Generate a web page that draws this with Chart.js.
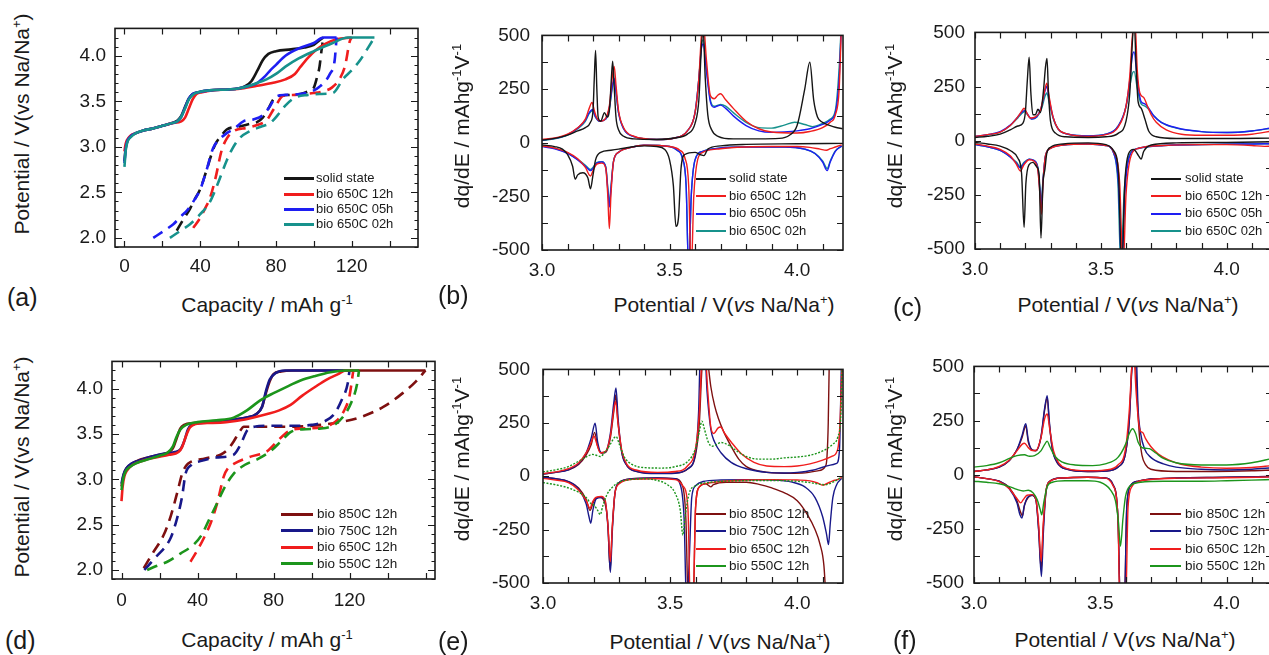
<!DOCTYPE html>
<html>
<head>
<meta charset="utf-8">
<script src="https://cdn.jsdelivr.net/npm/chart.js@4.4.1/dist/chart.umd.min.js"></script>
<style>
  html, body { margin: 0; padding: 0; background: #fff; }
  #fig { position: relative; width: 1269px; height: 655px; overflow: hidden;
         font-family: "Liberation Sans", Arial, sans-serif; color: #1a1a1a; }
  #fig canvas { position: absolute; }
  .xt { position: absolute; width: 400px; text-align: center; white-space: nowrap; font-size: 21px; line-height: 24px; }
  .yt { position: absolute; width: 320px; text-align: center; white-space: nowrap; font-size: 21px; line-height: 24px; transform: rotate(-90deg); }
  .pl { position: absolute; font-size: 25px; line-height: 28px; }
  sup { font-size: 0.62em; line-height: 0; vertical-align: 0.62em; }
  .lg { position: absolute; white-space: nowrap; line-height: 16px; }
  .lg span { display: inline-block; vertical-align: middle; }
</style>
</head>
<body>
<div id="fig"></div>
<script>
/* ---- galvanostatic curves: [capacity mAh/g, potential V] ---- */
// (a) charge (solid) / discharge (dashed)
const aSolidChg = [[0,2.84],[0.6,2.98],[1.5,3.06],[3,3.11],[6,3.15],[10,3.18],[15,3.2],[20,3.23],[25,3.26],[28,3.29],[30,3.34],[32,3.44],[34,3.53],[36,3.58],[39,3.6],[45,3.62],[55,3.63],[60,3.64],[64,3.67],[67,3.72],[70,3.83],[73,3.95],[76,4.02],[80,4.05],[88,4.07],[95,4.09],[100,4.12],[103,4.17],[105,4.2]];
const a12hChg = [[0,2.95],[0.6,3.03],[1.5,3.08],[3,3.12],[6,3.15],[10,3.18],[15,3.2],[20,3.23],[25,3.26],[30,3.28],[32,3.32],[34,3.42],[36,3.52],[38,3.58],[41,3.6],[46,3.62],[55,3.63],[62,3.64],[70,3.67],[78,3.7],[85,3.74],[90,3.8],[93,3.88],[97,3.98],[101,4.06],[106,4.13],[112,4.18],[120,4.2]];
const a05hChg = [[0,2.82],[0.6,2.97],[1.5,3.06],[3,3.11],[6,3.15],[10,3.18],[15,3.2],[20,3.23],[25,3.26],[28,3.28],[30,3.33],[32,3.43],[34,3.53],[36,3.58],[39,3.6],[45,3.62],[55,3.63],[60,3.64],[66,3.67],[70,3.7],[74,3.77],[77,3.84],[80,3.9],[85,4.0],[92,4.08],[100,4.14],[105,4.2],[112,4.2]];
const a02hChg = [[0,2.78],[0.6,2.95],[1.5,3.05],[3,3.1],[6,3.15],[10,3.18],[15,3.2],[20,3.23],[25,3.26],[28,3.28],[30,3.33],[32,3.42],[34,3.52],[36,3.57],[39,3.6],[45,3.62],[55,3.63],[60,3.64],[66,3.67],[70,3.7],[75,3.74],[80,3.8],[85,3.88],[92,3.97],[100,4.05],[110,4.14],[118,4.2],[132,4.2]];
const aSolidDis = [[27.6,2.08],[31,2.2],[34.6,2.32],[37,2.42],[39.9,2.53],[43,2.72],[46,2.92],[48,3.03],[51,3.12],[54,3.19],[60,3.22],[66,3.25],[70,3.27],[73,3.32],[76,3.42],[78.6,3.52],[82,3.56],[88,3.57],[93,3.58],[98,3.62],[100,3.65],[101.5,3.75],[103,3.88],[104,4.05],[105,4.2]];
const a12hDis = [[36.3,2.11],[40,2.22],[42.5,2.32],[45,2.43],[48,2.65],[51.3,2.96],[54,3.09],[57.5,3.17],[65,3.21],[70,3.24],[75,3.29],[79,3.42],[83.9,3.56],[90,3.57],[99.7,3.59],[105,3.61],[109.5,3.65],[113.8,3.75],[116.5,3.89],[119,4.16],[120,4.2]];
const a05hDis = [[15.2,2.0],[21,2.08],[25.8,2.15],[30,2.24],[33,2.3],[37,2.42],[40,2.53],[43,2.72],[46.9,2.99],[50,3.08],[54,3.15],[58,3.2],[62.8,3.28],[68,3.3],[73.3,3.35],[77,3.45],[80,3.55],[85,3.57],[96,3.59],[103,3.66],[108.5,3.8],[111,3.95],[112,4.2]];
const a02hDis = [[24,2.0],[29,2.07],[34.6,2.15],[40,2.26],[45,2.39],[49,2.58],[54,2.85],[57,2.98],[61,3.1],[66,3.17],[72,3.22],[76.9,3.26],[81,3.35],[84.8,3.45],[90,3.54],[97,3.57],[103,3.58],[110,3.59],[115.6,3.75],[120,3.84],[124.4,3.95],[129,4.1],[132,4.2]];

// (d) charge (solid) / discharge (dashed)
const d850Chg = [[0,2.92],[0.8,3.02],[2,3.1],[4,3.15],[8,3.2],[14,3.24],[20,3.27],[25,3.3],[27,3.34],[29,3.45],[31,3.56],[33,3.6],[38,3.62],[50,3.64],[60,3.66],[66,3.68],[71,3.72],[74,3.8],[76,3.95],[78,4.08],[80,4.16],[84,4.19],[90,4.2],[160,4.2]];
const d750Chg = [[0,2.95],[1,3.05],[2.5,3.12],[5,3.17],[10,3.21],[16,3.25],[22,3.28],[28,3.3],[31,3.33],[33,3.42],[35,3.55],[37,3.6],[42,3.62],[50,3.64],[60,3.66],[66,3.68],[71,3.72],[74,3.8],[76,3.97],[78,4.1],[81,4.17],[86,4.2],[120,4.2]];
const d650Chg = [[0,2.76],[0.6,2.92],[1.5,3.03],[3,3.1],[6,3.16],[12,3.21],[18,3.24],[25,3.27],[30,3.3],[32,3.36],[34,3.48],[36,3.57],[39,3.61],[45,3.62],[55,3.63],[65,3.66],[76.7,3.72],[83,3.76],[89,3.82],[95,3.92],[102,4.02],[108,4.1],[114,4.16],[118,4.2],[122,4.2]];
const d550Chg = [[0,2.88],[0.8,3.0],[2,3.08],[4,3.13],[8,3.18],[14,3.22],[20,3.26],[24,3.29],[27,3.36],[29,3.47],[31,3.55],[34,3.6],[40,3.63],[50,3.65],[59,3.68],[66,3.76],[73,3.87],[80,3.95],[88,4.03],[94.2,4.09],[102,4.14],[110,4.18],[118,4.2],[125,4.2]];
const d850Dis = [[11.7,2.02],[16,2.17],[22.3,2.39],[26,2.6],[29.3,2.85],[31.9,3.06],[34,3.15],[36.3,3.19],[44,3.23],[52.1,3.27],[56,3.33],[59.1,3.42],[62,3.52],[64.4,3.58],[75,3.58],[90,3.58],[105,3.6],[115,3.63],[125,3.68],[138,3.8],[148,3.95],[155,4.08],[160,4.2]];
const d750Dis = [[12,2.0],[18,2.14],[25.8,2.35],[29,2.55],[31.9,2.81],[33.7,3.06],[37,3.16],[41.6,3.2],[50,3.24],[59,3.27],[62.6,3.38],[66.2,3.54],[70,3.58],[76.7,3.59],[90,3.59],[100,3.6],[106,3.63],[112,3.72],[116,3.88],[119,4.05],[120,4.2]];
const d650Dis = [[36.3,2.09],[40,2.22],[43.3,2.35],[47,2.52],[50.4,2.74],[53.8,3.03],[56,3.12],[59.1,3.17],[68,3.25],[76.7,3.31],[82,3.42],[86,3.5],[89,3.54],[95,3.56],[105,3.57],[110,3.6],[114,3.66],[117,3.75],[120,3.92],[122,4.2]];
const d550Dis = [[13.5,2.0],[18,2.04],[24.1,2.09],[31,2.18],[38,2.28],[42,2.38],[46,2.55],[50.4,2.74],[54,2.9],[59,3.06],[65,3.16],[71.4,3.22],[78.4,3.31],[84,3.42],[89,3.52],[95,3.55],[105,3.56],[112,3.6],[117,3.7],[121,3.85],[124,4.05],[125,4.2]];

/* ---- differential capacity: [potential V, dq/dE mAh/g/V] ---- */
// (b)
const bSolidChg = [[3.0,12],[3.05,20],[3.1,35],[3.14,55],[3.17,70],[3.19,95],[3.2,150],[3.205,300],[3.21,430],[3.215,250],[3.22,120],[3.23,100],[3.245,140],[3.255,120],[3.265,160],[3.272,300],[3.277,380],[3.283,260],[3.29,120],[3.3,60],[3.32,30],[3.36,18],[3.45,15],[3.52,22],[3.57,40],[3.6,90],[3.615,200],[3.625,450],[3.632,520],[3.64,300],[3.65,130],[3.665,60],[3.69,30],[3.75,18],[3.85,18],[3.93,20],[3.97,35],[4.0,80],[4.03,250],[4.05,375],[4.065,200],[4.08,120],[4.1,95],[4.13,80],[4.15,72],[4.178,65]];
const bSolidDis = [[3.0,-10],[3.05,-18],[3.08,-30],[3.1,-55],[3.12,-110],[3.13,-170],[3.14,-150],[3.16,-140],[3.18,-165],[3.19,-215],[3.2,-150],[3.21,-80],[3.23,-45],[3.27,-35],[3.3,-30],[3.35,-20],[3.4,-15],[3.45,-18],[3.48,-30],[3.5,-80],[3.515,-200],[3.525,-390],[3.535,-350],[3.545,-120],[3.56,-55],[3.6,-45],[3.62,-55],[3.635,-60],[3.65,-30],[3.7,-15],[3.8,-8],[4.0,-5],[4.178,-3]];
const b12hChg = [[3.0,15],[3.05,22],[3.1,40],[3.14,70],[3.17,110],[3.185,160],[3.196,188],[3.205,150],[3.215,115],[3.23,100],[3.25,115],[3.265,180],[3.275,300],[3.283,355],[3.29,270],[3.3,150],[3.32,70],[3.36,30],[3.45,15],[3.52,22],[3.57,55],[3.6,140],[3.615,300],[3.625,500],[3.632,560],[3.645,380],[3.66,220],[3.675,205],[3.69,222],[3.7,228],[3.72,200],[3.75,160],[3.8,100],[3.85,65],[3.9,50],[4.0,45],[4.05,52],[4.1,70],[4.13,95],[4.15,130],[4.165,250],[4.175,600]];
const b12hDis = [[3.0,-15],[3.05,-25],[3.1,-45],[3.14,-75],[3.17,-115],[3.19,-155],[3.2,-130],[3.215,-100],[3.235,-95],[3.25,-120],[3.258,-250],[3.264,-400],[3.27,-250],[3.28,-90],[3.3,-45],[3.35,-22],[3.4,-12],[3.5,-18],[3.54,-35],[3.56,-70],[3.575,-200],[3.585,-600],[3.595,-250],[3.61,-80],[3.63,-45],[3.7,-28],[3.8,-20],[3.9,-18],[4.0,-18],[4.05,-22],[4.09,-30],[4.115,-35],[4.13,-28],[4.15,-20],[4.175,-10]];
const b05hChg = [[3.0,12],[3.05,20],[3.1,38],[3.14,68],[3.17,105],[3.185,140],[3.198,155],[3.21,120],[3.225,100],[3.25,110],[3.265,170],[3.275,260],[3.283,300],[3.29,240],[3.3,140],[3.32,65],[3.36,28],[3.45,15],[3.52,22],[3.57,55],[3.6,140],[3.615,300],[3.625,440],[3.632,460],[3.645,330],[3.66,190],[3.675,165],[3.69,172],[3.7,175],[3.72,160],[3.75,125],[3.8,80],[3.85,55],[3.9,48],[3.95,50],[4.0,55],[4.05,65],[4.1,85],[4.13,105],[4.15,140],[4.165,300],[4.175,600]];
const b05hDis = [[3.0,-18],[3.05,-28],[3.1,-50],[3.14,-80],[3.17,-110],[3.19,-130],[3.2,-120],[3.215,-95],[3.235,-90],[3.25,-115],[3.258,-220],[3.264,-300],[3.27,-220],[3.28,-90],[3.3,-45],[3.35,-22],[3.4,-12],[3.5,-18],[3.53,-35],[3.55,-70],[3.565,-200],[3.575,-600],[3.585,-250],[3.6,-80],[3.63,-40],[3.7,-25],[3.8,-20],[3.95,-20],[4.03,-30],[4.07,-50],[4.1,-90],[4.118,-130],[4.13,-90],[4.15,-40],[4.175,-15]];
const b02hChg = [[3.0,10],[3.05,18],[3.1,35],[3.14,65],[3.17,100],[3.185,135],[3.198,150],[3.21,118],[3.225,100],[3.25,110],[3.265,165],[3.275,250],[3.283,290],[3.29,235],[3.3,140],[3.32,65],[3.36,28],[3.45,15],[3.52,22],[3.57,55],[3.6,140],[3.615,300],[3.625,450],[3.632,480],[3.645,340],[3.66,200],[3.675,170],[3.69,175],[3.7,178],[3.72,170],[3.75,140],[3.8,95],[3.85,70],[3.9,68],[3.95,82],[3.99,95],[4.03,85],[4.06,75],[4.1,90],[4.13,110],[4.15,150],[4.165,350],[4.175,600]];
const b02hDis = [[3.0,-16],[3.05,-26],[3.1,-48],[3.14,-78],[3.17,-105],[3.19,-125],[3.2,-115],[3.215,-92],[3.235,-88],[3.25,-112],[3.258,-210],[3.264,-280],[3.27,-210],[3.28,-88],[3.3,-45],[3.35,-22],[3.4,-12],[3.5,-18],[3.53,-35],[3.55,-70],[3.565,-200],[3.575,-600],[3.585,-250],[3.6,-80],[3.63,-40],[3.7,-25],[3.8,-20],[3.95,-20],[4.03,-30],[4.07,-50],[4.1,-85],[4.118,-120],[4.13,-85],[4.15,-38],[4.175,-15]];

// (c)
const cSolidChg = [[3.0,15],[3.05,20],[3.1,30],[3.14,50],[3.17,68],[3.19,80],[3.2,130],[3.208,280],[3.215,385],[3.222,220],[3.23,120],[3.24,120],[3.25,145],[3.26,130],[3.272,230],[3.28,340],[3.286,380],[3.292,220],[3.3,90],[3.32,35],[3.36,18],[3.45,15],[3.52,18],[3.57,35],[3.6,90],[3.615,220],[3.625,450],[3.632,560],[3.64,350],[3.648,180],[3.66,150],[3.675,100],[3.69,45],[3.72,18],[3.8,10],[4.0,10],[4.18,12]];
const cSolidDis = [[3.0,-8],[3.05,-15],[3.1,-25],[3.14,-45],[3.17,-80],[3.185,-150],[3.195,-400],[3.202,-200],[3.215,-110],[3.23,-100],[3.245,-120],[3.255,-160],[3.262,-450],[3.27,-200],[3.278,-130],[3.285,-60],[3.3,-30],[3.35,-15],[3.45,-10],[3.52,-18],[3.55,-45],[3.57,-150],[3.583,-600],[3.595,-200],[3.61,-60],[3.63,-40],[3.65,-70],[3.66,-85],[3.67,-50],[3.7,-20],[3.8,-10],[4.0,-8],[4.18,-5]];
const c12hChg = [[3.0,20],[3.05,28],[3.1,40],[3.14,70],[3.17,110],[3.185,135],[3.195,150],[3.205,130],[3.22,105],[3.24,110],[3.26,140],[3.275,220],[3.285,265],[3.295,200],[3.31,110],[3.33,55],[3.37,30],[3.45,20],[3.52,28],[3.57,65],[3.6,160],[3.615,300],[3.625,480],[3.635,560],[3.645,320],[3.655,220],[3.67,200],[3.685,160],[3.7,120],[3.72,85],[3.76,50],[3.82,30],[3.9,25],[4.0,25],[4.1,30],[4.18,45]];
const c12hDis = [[3.0,-15],[3.05,-25],[3.1,-40],[3.14,-70],[3.165,-110],[3.18,-140],[3.195,-110],[3.215,-88],[3.235,-95],[3.25,-140],[3.258,-250],[3.264,-340],[3.27,-200],[3.28,-70],[3.3,-35],[3.35,-20],[3.45,-15],[3.52,-22],[3.55,-50],[3.575,-200],[3.588,-600],[3.6,-250],[3.62,-70],[3.65,-35],[3.75,-22],[3.9,-18],[4.0,-18],[4.1,-22],[4.15,-26],[4.18,-25]];
const c05hChg = [[3.0,20],[3.05,28],[3.1,42],[3.14,72],[3.17,110],[3.185,130],[3.198,140],[3.21,120],[3.225,100],[3.245,110],[3.265,160],[3.278,230],[3.285,250],[3.295,190],[3.31,110],[3.33,55],[3.37,30],[3.45,22],[3.52,30],[3.57,70],[3.6,160],[3.615,280],[3.625,390],[3.632,410],[3.645,280],[3.66,180],[3.675,170],[3.69,150],[3.71,115],[3.74,85],[3.8,60],[3.9,42],[4.0,38],[4.1,45],[4.18,60]];
const c05hDis = [[3.0,-18],[3.05,-28],[3.1,-45],[3.14,-75],[3.165,-105],[3.18,-125],[3.195,-105],[3.215,-85],[3.235,-92],[3.25,-130],[3.258,-230],[3.264,-300],[3.27,-190],[3.28,-70],[3.3,-35],[3.35,-20],[3.45,-15],[3.52,-22],[3.55,-55],[3.57,-200],[3.583,-600],[3.595,-250],[3.615,-70],[3.65,-35],[3.75,-22],[3.9,-18],[4.0,-16],[4.1,-15],[4.18,-14]];
const c02hChg = [[3.0,18],[3.05,26],[3.1,40],[3.14,70],[3.17,105],[3.185,125],[3.198,135],[3.21,118],[3.225,100],[3.245,108],[3.265,150],[3.278,205],[3.285,220],[3.295,175],[3.31,105],[3.33,55],[3.37,30],[3.45,22],[3.52,30],[3.57,70],[3.6,155],[3.615,250],[3.625,310],[3.632,320],[3.645,240],[3.66,170],[3.675,160],[3.69,145],[3.71,115],[3.74,85],[3.8,58],[3.9,42],[4.0,38],[4.1,45],[4.18,58]];
const c02hDis = [[3.0,-18],[3.05,-28],[3.1,-45],[3.14,-75],[3.165,-100],[3.18,-120],[3.195,-100],[3.215,-85],[3.235,-92],[3.25,-125],[3.258,-220],[3.264,-280],[3.27,-180],[3.28,-70],[3.3,-35],[3.35,-20],[3.45,-15],[3.52,-22],[3.55,-55],[3.568,-200],[3.58,-600],[3.592,-250],[3.612,-70],[3.65,-35],[3.75,-22],[3.9,-18],[4.0,-16],[4.1,-15],[4.18,-14]];

// (e)
const e850Chg = [[3.0,10],[3.05,18],[3.1,30],[3.14,55],[3.17,100],[3.19,150],[3.203,205],[3.215,140],[3.23,108],[3.245,110],[3.265,180],[3.278,300],[3.286,380],[3.295,250],[3.31,110],[3.33,50],[3.37,22],[3.45,13],[3.52,15],[3.57,35],[3.6,100],[3.615,250],[3.625,500],[3.64,620],[3.65,520],[3.66,420],[3.675,330],[3.69,270],[3.71,210],[3.74,140],[3.77,80],[3.8,45],[3.86,22],[3.95,14],[4.02,15],[4.08,25],[4.11,45],[4.117,90],[4.122,250],[4.127,620]];
const e850Dis = [[3.0,-5],[3.05,-12],[3.1,-25],[3.14,-55],[3.17,-110],[3.185,-160],[3.2,-115],[3.22,-98],[3.24,-115],[3.255,-220],[3.264,-440],[3.272,-250],[3.283,-80],[3.3,-30],[3.35,-12],[3.45,-8],[3.52,-12],[3.55,-50],[3.562,-200],[3.572,-620],[3.59,-620],[3.6,-150],[3.615,-50],[3.64,-35],[3.66,-50],[3.67,-40],[3.72,-28],[3.8,-28],[3.85,-38],[3.9,-55],[3.95,-78],[4.0,-115],[4.04,-180],[4.07,-250],[4.09,-320],[4.105,-420],[4.115,-620]];
const e750Chg = [[3.0,10],[3.05,18],[3.1,30],[3.14,58],[3.17,110],[3.19,180],[3.205,248],[3.215,160],[3.23,110],[3.245,112],[3.265,200],[3.278,340],[3.287,413],[3.296,260],[3.31,110],[3.33,50],[3.37,22],[3.45,12],[3.52,14],[3.57,35],[3.6,110],[3.612,300],[3.62,620],[3.635,620],[3.645,400],[3.66,220],[3.675,160],[3.7,110],[3.74,65],[3.8,35],[3.88,18],[3.95,15],[4.0,18],[4.06,28],[4.1,42],[4.13,52],[4.155,60],[4.166,120],[4.175,620]];
const e750Dis = [[3.0,-5],[3.05,-12],[3.1,-25],[3.14,-60],[3.17,-130],[3.18,-185],[3.188,-220],[3.196,-160],[3.21,-105],[3.23,-100],[3.245,-120],[3.256,-250],[3.265,-450],[3.273,-250],[3.283,-80],[3.3,-30],[3.35,-12],[3.45,-8],[3.52,-12],[3.54,-40],[3.555,-200],[3.565,-620],[3.575,-400],[3.585,-100],[3.6,-45],[3.63,-25],[3.7,-18],[3.8,-16],[3.9,-18],[3.98,-28],[4.03,-50],[4.07,-100],[4.1,-190],[4.115,-270],[4.123,-320],[4.13,-220],[4.14,-100],[4.155,-40],[4.175,-10]];
const e650Chg = [[3.0,12],[3.05,20],[3.1,35],[3.14,62],[3.17,110],[3.19,160],[3.2,188],[3.212,150],[3.225,110],[3.245,115],[3.265,190],[3.277,300],[3.285,350],[3.295,250],[3.31,120],[3.33,55],[3.37,28],[3.45,18],[3.52,22],[3.57,50],[3.6,130],[3.615,300],[3.625,560],[3.635,620],[3.648,400],[3.66,230],[3.672,200],[3.688,225],[3.698,230],[3.715,200],[3.74,160],[3.78,105],[3.83,65],[3.88,48],[3.95,45],[4.0,48],[4.05,58],[4.1,75],[4.14,95],[4.16,130],[4.17,300],[4.178,620]];
const e650Dis = [[3.0,-10],[3.05,-18],[3.1,-30],[3.14,-65],[3.17,-115],[3.185,-150],[3.195,-120],[3.21,-98],[3.23,-95],[3.245,-115],[3.256,-240],[3.265,-400],[3.273,-230],[3.283,-80],[3.3,-35],[3.35,-15],[3.45,-12],[3.52,-16],[3.55,-45],[3.57,-150],[3.58,-620],[3.59,-620],[3.6,-150],[3.615,-50],[3.64,-35],[3.7,-25],[3.8,-18],[3.9,-16],[4.0,-18],[4.05,-22],[4.08,-32],[4.1,-42],[4.115,-35],[4.14,-22],[4.16,-15],[4.175,-5]];
const e550Chg = [[3.0,20],[3.05,30],[3.1,45],[3.14,70],[3.17,90],[3.195,102],[3.21,98],[3.225,92],[3.245,115],[3.265,150],[3.28,180],[3.288,185],[3.3,150],[3.32,90],[3.35,55],[3.4,40],[3.47,38],[3.52,45],[3.57,70],[3.6,130],[3.615,210],[3.625,258],[3.635,220],[3.65,160],[3.665,140],[3.685,150],[3.7,158],[3.73,145],[3.76,120],[3.8,92],[3.85,80],[3.9,80],[3.95,86],[4.0,90],[4.05,98],[4.1,118],[4.14,150],[4.16,185],[4.172,300],[4.178,620]];
const e550Dis = [[3.0,-30],[3.05,-40],[3.1,-55],[3.14,-75],[3.17,-100],[3.19,-130],[3.2,-135],[3.215,-160],[3.225,-180],[3.235,-140],[3.25,-90],[3.27,-55],[3.3,-28],[3.35,-15],[3.4,-12],[3.45,-20],[3.49,-40],[3.52,-80],[3.54,-160],[3.55,-275],[3.56,-180],[3.575,-80],[3.6,-45],[3.65,-30],[3.75,-22],[3.9,-20],[4.0,-24],[4.05,-30],[4.09,-38],[4.11,-40],[4.14,-28],[4.16,-15],[4.175,-5]];

// (f)
const f850Chg = [[3.0,15],[3.05,22],[3.1,35],[3.14,65],[3.17,115],[3.19,170],[3.205,225],[3.215,150],[3.23,115],[3.245,110],[3.265,170],[3.28,300],[3.29,355],[3.298,240],[3.31,120],[3.33,55],[3.37,25],[3.45,15],[3.52,17],[3.57,35],[3.6,100],[3.615,250],[3.625,500],[3.635,620],[3.645,380],[3.655,180],[3.665,90],[3.68,45],[3.7,25],[3.8,15],[3.95,15],[4.1,18],[4.18,22]];
const f850Dis = [[3.0,-10],[3.05,-18],[3.1,-30],[3.14,-60],[3.17,-120],[3.185,-175],[3.192,-190],[3.2,-140],[3.215,-105],[3.23,-95],[3.245,-115],[3.256,-250],[3.266,-440],[3.274,-250],[3.285,-80],[3.3,-30],[3.35,-15],[3.45,-12],[3.52,-15],[3.55,-45],[3.57,-200],[3.58,-620],[3.595,-620],[3.605,-150],[3.62,-50],[3.65,-30],[3.7,-20],[3.8,-15],[4.0,-12],[4.18,-8]];
const f750Chg = [[3.0,15],[3.05,22],[3.1,35],[3.14,65],[3.17,115],[3.19,180],[3.205,235],[3.215,160],[3.23,115],[3.245,112],[3.265,175],[3.28,310],[3.29,365],[3.298,250],[3.31,120],[3.33,55],[3.37,25],[3.45,15],[3.52,17],[3.57,35],[3.6,100],[3.615,250],[3.625,480],[3.64,620],[3.65,300],[3.66,190],[3.675,120],[3.7,80],[3.75,50],[3.8,35],[3.9,25],[4.0,22],[4.1,25],[4.18,32]];
const f750Dis = [[3.0,-10],[3.05,-18],[3.1,-30],[3.14,-65],[3.17,-130],[3.182,-185],[3.19,-200],[3.198,-150],[3.212,-105],[3.23,-95],[3.245,-115],[3.256,-260],[3.267,-470],[3.275,-260],[3.285,-80],[3.3,-30],[3.35,-15],[3.45,-12],[3.52,-15],[3.55,-45],[3.57,-200],[3.58,-620],[3.595,-620],[3.605,-150],[3.62,-50],[3.65,-30],[3.7,-20],[3.8,-15],[4.0,-12],[4.18,-8]];
const f650Chg = [[3.0,15],[3.05,22],[3.1,38],[3.14,68],[3.17,110],[3.19,140],[3.2,145],[3.215,125],[3.23,112],[3.245,112],[3.265,170],[3.28,260],[3.29,280],[3.3,210],[3.315,110],[3.335,55],[3.37,28],[3.45,18],[3.52,22],[3.57,45],[3.6,120],[3.615,300],[3.625,500],[3.632,560],[3.642,380],[3.652,240],[3.66,200],[3.668,195],[3.68,165],[3.7,130],[3.73,95],[3.77,68],[3.82,48],[3.9,35],[4.0,30],[4.1,33],[4.18,42]];
const f650Dis = [[3.0,-10],[3.05,-18],[3.1,-32],[3.14,-65],[3.17,-110],[3.185,-130],[3.195,-115],[3.21,-95],[3.23,-92],[3.245,-112],[3.256,-230],[3.266,-400],[3.274,-230],[3.285,-75],[3.3,-32],[3.35,-15],[3.45,-12],[3.52,-16],[3.55,-50],[3.57,-200],[3.578,-620],[3.6,-620],[3.61,-150],[3.625,-55],[3.65,-32],[3.7,-22],[3.8,-16],[4.0,-14],[4.18,-10]];
const f550Chg = [[3.0,35],[3.05,42],[3.1,55],[3.14,75],[3.17,88],[3.2,92],[3.22,85],[3.24,88],[3.265,110],[3.28,140],[3.29,155],[3.3,130],[3.32,85],[3.35,58],[3.4,45],[3.47,42],[3.52,50],[3.57,80],[3.6,140],[3.615,190],[3.628,212],[3.64,190],[3.65,150],[3.665,125],[3.68,122],[3.695,120],[3.72,100],[3.75,75],[3.8,55],[3.9,45],[4.0,45],[4.1,55],[4.18,75]];
const f550Dis = [[3.0,-30],[3.05,-35],[3.1,-42],[3.14,-55],[3.17,-68],[3.195,-75],[3.215,-72],[3.235,-85],[3.25,-115],[3.262,-160],[3.268,-185],[3.276,-130],[3.29,-55],[3.31,-35],[3.36,-28],[3.45,-28],[3.5,-35],[3.54,-70],[3.56,-120],[3.572,-220],[3.58,-330],[3.59,-200],[3.6,-100],[3.62,-50],[3.66,-35],[3.75,-30],[3.9,-30],[4.0,-28],[4.1,-25],[4.18,-22]];

/* ---- axis labels and legends ---- */
const capXLabels = [0, 40, 80, 120];
const capYLabels = [2.0, 2.5, 3.0, 3.5, 4.0];
const dqXLabels = [3.0, 3.5, 4.0];
const dqYLabels = [-500, -250, 0, 250, 500];
const namesTime = ['solid state', 'bio 650C 12h', 'bio 650C 05h', 'bio 650C 02h'];
const namesTemp = ['bio 850C 12h', 'bio 750C 12h', 'bio 650C 12h', 'bio 550C 12h'];

const FONT = '"Liberation Sans", Arial, sans-serif';
const COL = { blk: '#161616', red: '#f01d1d', blu: '#1e1ef2', teal: '#17928c',
              mar: '#7e1010', navy: '#18188a', grn: '#1c951c' };
const timeCols = [COL.blk, COL.red, COL.blu, COL.teal];
const tempCols = [COL.mar, COL.navy, COL.red, COL.grn];

const fig = document.getElementById('fig');
const YW = 70, XH = 40, PT = 12, PR = 12;

function line(data, color, width, dash) {
  return {
    data: data.map(p => ({ x: p[0], y: p[1] })),
    borderColor: color, borderWidth: width, borderDash: dash || [],
    pointRadius: 0, fill: false, cubicInterpolationMode: 'monotone'
  };
}

function steps(a, b, s) {
  const out = [];
  for (let v = a; v <= b + 1e-9; v += s) out.push(+v.toFixed(4));
  return out;
}

// box frame with inward tick marks on all four sides
function frame(xt, yt) {
  return {
    id: 'frame',
    afterDatasetsDraw(chart) {
      const { ctx, chartArea: a, scales: { x, y } } = chart;
      ctx.save();
      ctx.strokeStyle = '#1a1a1a';
      ctx.lineWidth = 1.2;
      ctx.beginPath();
      xt.forEach(([vals, len]) => vals.forEach(v => {
        const px = Math.round(x.getPixelForValue(v)) + 0.5;
        ctx.moveTo(px, a.bottom); ctx.lineTo(px, a.bottom - len);
        ctx.moveTo(px, a.top); ctx.lineTo(px, a.top + len);
      }));
      yt.forEach(([vals, len]) => vals.forEach(v => {
        const py = Math.round(y.getPixelForValue(v)) + 0.5;
        ctx.moveTo(a.left, py); ctx.lineTo(a.left + len, py);
        ctx.moveTo(a.right, py); ctx.lineTo(a.right - len, py);
      }));
      ctx.stroke();
      ctx.lineWidth = 1.6;
      ctx.strokeRect(a.left, a.top, a.right - a.left, a.bottom - a.top);
      ctx.restore();
    }
  };
}

function panel(p) {
  const cv = document.createElement('canvas');
  const w = (p.R - p.L) + YW + PR, h = (p.B - p.T) + PT + XH;
  cv.width = w; cv.height = h;
  cv.style.left = (p.L - YW) + 'px';
  cv.style.top = (p.T - PT) + 'px';
  cv.style.width = w + 'px'; cv.style.height = h + 'px';
  fig.appendChild(cv);
  new Chart(cv, {
    type: 'line',
    data: { datasets: p.sets },
    options: {
      responsive: false, animation: false, devicePixelRatio: 1, events: [],
      layout: { padding: { top: PT, right: PR, left: 0, bottom: 0 } },
      plugins: { legend: { display: false }, tooltip: { enabled: false } },
      scales: {
        x: {
          type: 'linear', min: p.x[0], max: p.x[1],
          grid: { display: false, drawTicks: false }, border: { display: false },
          ticks: { font: { family: FONT, size: 19 }, color: '#1a1a1a', padding: p.xpad,
                   maxRotation: 0, autoSkip: false, callback: p.xfmt },
          afterBuildTicks: s => { s.ticks = p.xl.map(v => ({ value: v })); },
          afterFit: s => { s.height = XH; }
        },
        y: {
          type: 'linear', min: p.y[0], max: p.y[1],
          grid: { display: false, drawTicks: false }, border: { display: false },
          ticks: { font: { family: FONT, size: 19 }, color: '#1a1a1a', padding: p.ypad,
                   autoSkip: false, callback: p.yfmt },
          afterBuildTicks: s => { s.ticks = p.yl.map(v => ({ value: v })); },
          afterFit: s => { s.width = YW; }
        }
      }
    },
    plugins: [frame(p.xt, p.yt)]
  });
}

function addHtml(cls, html, css) {
  const d = document.createElement('div');
  d.className = cls;
  d.innerHTML = html;
  Object.assign(d.style, css);
  fig.appendChild(d);
  return d;
}

function legend(names, cols, x0, len, tx, rows, size, lw) {
  names.forEach((n, i) => {
    addHtml('lg', '<span style="width:' + len + 'px;height:' + lw + 'px;background:' + cols[i] +
      ';margin-right:' + (tx - x0 - len) + 'px"></span>' + n,
      { left: x0 + 'px', top: (rows[i] - 8) + 'px', fontSize: size + 'px' });
  });
}

const capFmt = v => v.toFixed(1);
const vFmt = v => v.toFixed(1);
const dqFmt = v => String(v);
const capXT = (max) => [[steps(0, max, 20), 6]];
const capYT = [[steps(1.9, 4.3, 0.1), 3.5], [steps(2.0, 4.0, 0.5), 7]];
const dqXT = [[steps(3.0, 4.1, 0.1), 6]];
const dqYT = [[steps(-500, 500, 125), 6]];
const DASH = [11, 7];

// (a) capacity, synthesis time series
panel({ L: 115, T: 20, R: 418, B: 247, x: [-5, 155], y: [1.9, 4.3],
  xl: capXLabels, yl: capYLabels, xfmt: v => String(v), yfmt: capFmt, xpad: 8, ypad: 9,
  xt: capXT(140), yt: capYT,
  sets: [
    line(a02hChg, COL.teal, 2.6), line(a02hDis, COL.teal, 2.6, DASH),
    line(a05hChg, COL.blu, 2.6), line(a05hDis, COL.blu, 2.6, DASH),
    line(a12hChg, COL.red, 2.6), line(a12hDis, COL.red, 2.6, DASH),
    line(aSolidChg, COL.blk, 2.6), line(aSolidDis, COL.blk, 2.6, DASH)
  ] });

// (b) dq/dE, synthesis time series
panel({ L: 542, T: 24, R: 843, B: 250, x: [3.0, 4.18], y: [-500, 500],
  xl: dqXLabels, yl: dqYLabels, xfmt: vFmt, yfmt: dqFmt, xpad: 9, ypad: 12,
  xt: dqXT, yt: dqYT,
  sets: [
    line(bSolidChg, COL.blk, 1.4), line(bSolidDis, COL.blk, 1.4),
    line(b12hChg, COL.red, 1.4), line(b12hDis, COL.red, 1.4),
    line(b05hChg, COL.blu, 1.4), line(b05hDis, COL.blu, 1.4),
    line(b02hChg, COL.teal, 1.4), line(b02hDis, COL.teal, 1.4)
  ] });

// (c) dq/dE, synthesis time series
panel({ L: 975, T: 23, R: 1272, B: 249, x: [3.0, 4.18], y: [-500, 500],
  xl: dqXLabels, yl: dqYLabels, xfmt: vFmt, yfmt: dqFmt, xpad: 9, ypad: 10,
  xt: dqXT, yt: dqYT,
  sets: [
    line(cSolidChg, COL.blk, 1.4), line(cSolidDis, COL.blk, 1.4),
    line(c12hChg, COL.red, 1.4), line(c12hDis, COL.red, 1.4),
    line(c05hChg, COL.blu, 1.4), line(c05hDis, COL.blu, 1.4),
    line(c02hChg, COL.teal, 1.4), line(c02hDis, COL.teal, 1.4)
  ] });

// (d) capacity, calcination temperature series
panel({ L: 112, T: 353, R: 435, B: 579, x: [-5, 165], y: [1.9, 4.3],
  xl: capXLabels, yl: capYLabels, xfmt: v => String(v), yfmt: capFmt, xpad: 10, ypad: 9,
  xt: capXT(160), yt: capYT,
  sets: [
    line(d550Chg, COL.grn, 2.6), line(d550Dis, COL.grn, 2.6, DASH),
    line(d650Chg, COL.red, 2.6), line(d650Dis, COL.red, 2.6, DASH),
    line(d750Chg, COL.navy, 2.6), line(d750Dis, COL.navy, 2.6, DASH),
    line(d850Chg, COL.mar, 2.6), line(d850Dis, COL.mar, 2.6, DASH)
  ] });

// (e) dq/dE, calcination temperature series
panel({ L: 543, T: 357, R: 843, B: 583, x: [3.0, 4.18], y: [-500, 500],
  xl: dqXLabels, yl: dqYLabels, xfmt: vFmt, yfmt: dqFmt, xpad: 9, ypad: 13,
  xt: dqXT, yt: dqYT,
  sets: [
    line(e550Chg, COL.grn, 1.4, [2, 1.5]), line(e550Dis, COL.grn, 1.4, [2, 1.5]),
    line(e650Chg, COL.red, 1.4), line(e650Dis, COL.red, 1.4),
    line(e750Chg, COL.navy, 1.4), line(e750Dis, COL.navy, 1.4),
    line(e850Chg, COL.mar, 1.4), line(e850Dis, COL.mar, 1.4)
  ] });

// (f) dq/dE, calcination temperature series
panel({ L: 974, T: 357, R: 1272, B: 583, x: [3.0, 4.18], y: [-500, 500],
  xl: dqXLabels, yl: dqYLabels, xfmt: vFmt, yfmt: dqFmt, xpad: 9, ypad: 10,
  xt: dqXT, yt: dqYT,
  sets: [
    line(f550Chg, COL.grn, 1.4), line(f550Dis, COL.grn, 1.4),
    line(f650Chg, COL.red, 1.4), line(f650Dis, COL.red, 1.4),
    line(f750Chg, COL.navy, 1.4), line(f750Dis, COL.navy, 1.4),
    line(f850Chg, COL.mar, 1.4), line(f850Dis, COL.mar, 1.4)
  ] });

/* ---- titles, panel letters, legends ---- */
const capTitle = 'Capacity / mAh g<sup>-1</sup>';
const potTitle = 'Potential / V(<i>vs</i> Na/Na<sup>+</sup>)';
const potYTitle = 'Potential / V(vs Na/Na<sup>+</sup>)';
const dqTitle = 'dq/dE / mAhg<sup>-1</sup>V<sup>-1</sup>';

[[267, 293, capTitle], [724, 293, potTitle], [1128, 293, potTitle],
 [267, 628, capTitle], [720, 630, potTitle], [1125, 628, potTitle]].forEach(([cx, top, t]) =>
  addHtml('xt', t, { left: (cx - 200) + 'px', top: top + 'px' }));

[[22, 124, potYTitle], [462, 126, dqTitle], [895, 126, dqTitle],
 [22, 467, potYTitle], [462, 459, dqTitle], [895, 459, dqTitle]].forEach(([cx, cy, t]) =>
  addHtml('yt', t, { left: (cx - 160) + 'px', top: (cy - 12) + 'px' }));

[[7, 283, '(a)'], [438, 281, '(b)'], [893, 293, '(c)'],
 [5, 626, '(d)'], [438, 627, '(e)'], [893, 626, '(f)']].forEach(([x, y, t]) =>
  addHtml('pl', t, { left: x + 'px', top: y + 'px' }));

legend(namesTime, timeCols, 284, 30, 316, [178, 194, 209, 224], 13, 3);
legend(namesTime, timeCols, 696, 30, 729, [178, 195.5, 213, 230.5], 13, 2);
legend(namesTime, timeCols, 1151, 30, 1185, [178, 195.5, 213, 230.5], 13, 2);
legend(namesTemp, tempCols, 281, 32, 317, [514, 530.5, 547, 563.5], 13.5, 3);
legend(namesTemp, tempCols, 696, 30, 729, [513.5, 531, 548.5, 566], 13.5, 2);
legend(namesTemp, tempCols, 1150, 31, 1185, [513.5, 531, 548.5, 566], 13.5, 2);
</script>
</body>
</html>
